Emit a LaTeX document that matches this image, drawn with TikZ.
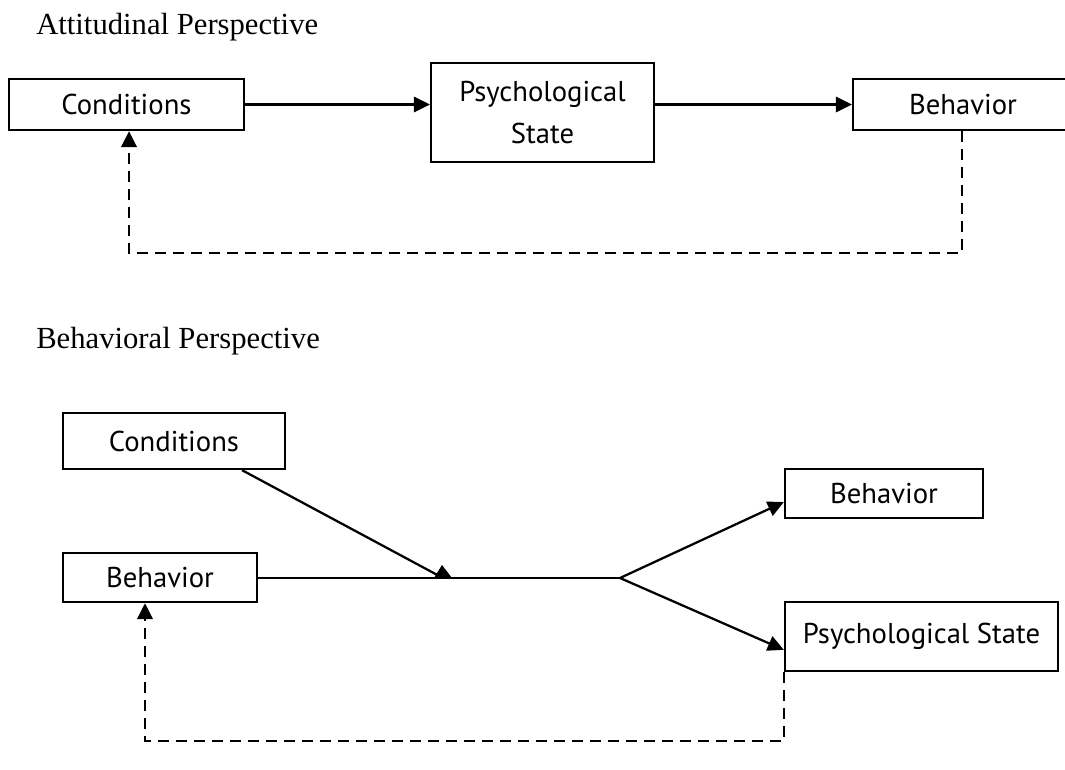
\documentclass[tikz,border=0pt]{standalone}
\usepackage{fontspec}
\setmainfont{Liberation Serif}
\newfontfamily\boxfont{PT Sans}
\usetikzlibrary{arrows.meta}
\begin{document}
\begin{tikzpicture}[x=0.75pt,y=-0.75pt,
  box/.style={draw, line width=1.7pt, inner sep=0pt, font=\boxfont\fontsize{21.5}{32}\selectfont, align=center},
  arr/.style={line width=1.7pt, -{Triangle[length=12pt,width=11.5pt]}},
  ln/.style={line width=1.7pt},
  fb/.style={line width=2pt, dash pattern=on 8.5pt off 5pt, -{Triangle[length=12pt,width=11.5pt]}},
  ttl/.style={anchor=base west, inner sep=0pt, font=\fontsize{23}{28}\selectfont}]
\useasboundingbox (0,0) rectangle (1065,769);
% top section
\node[ttl] (t1) at (36,34) {Attitudinal Perspective};
\node[box, minimum width=176.25pt, minimum height=38.25pt] (cond1) at (126.5,104.5) {Conditions};
\node[box, minimum width=167.25pt, minimum height=74.25pt] (psy1) at (542.5,112.5) {Psychological\\State};
\node[box, minimum width=165pt, minimum height=38.25pt] (beh1) at (963,104.5) {Behavior};
\draw[arr] (cond1.east) -- (cond1.east -| psy1.west);
\draw[arr] (psy1.east |- beh1.west) -- (beh1.west);
\draw[fb] ([xshift=-0.75pt]beh1.south) -- ++(0,122) -| ([xshift=1.9pt]cond1.south);
% bottom section
\node[ttl] (t2) at (36,348) {Behavioral Perspective};
\node[box, minimum width=166.5pt, minimum height=42pt] (cond2) at (174,441) {Conditions};
\node[box, minimum width=145.5pt, minimum height=36.75pt] (beh2) at (160,577.5) {Behavior};
\node[box, minimum width=148.5pt, minimum height=36.75pt] (beh3) at (884,493.5) {Behavior};
\node[box, minimum width=204.75pt, minimum height=51.75pt] (psy2) at (921.5,636.5) {Psychological State};
\coordinate (j) at (443,578);
\coordinate (f) at (620,578);
\draw[ln] ([xshift=51pt]cond2.south) -- (j);
\fill (434,578) -- (452,578) -- (442,565) -- cycle;
\draw[ln] (beh2.east |- f) -- (f);
\draw[arr] (f) -- ([yshift=-6.4pt]beh3.west);
\draw[arr] (f) -- ([yshift=-10pt]psy2.west);
\draw[fb] (psy2.south west) -- ++(0,69) -| ([xshift=-11.25pt]beh2.south);
\end{tikzpicture}
\end{document}
